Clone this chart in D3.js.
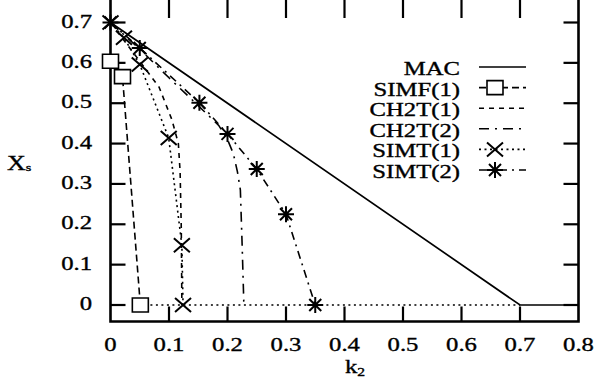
<!DOCTYPE html>
<html><head><meta charset="utf-8">
<script src="https://cdn.jsdelivr.net/npm/d3@7"></script>
<style>body{margin:0;background:#fff}svg{display:block}</style>
</head><body>
<svg id="c" width="595" height="380"></svg>
<script>
// ---- data (k2 vs X_s) ----
const xTicks = [0, 0.1, 0.2, 0.3, 0.4, 0.5, 0.6, 0.7, 0.8];
const yTicks = [0, 0.1, 0.2, 0.3, 0.4, 0.5, 0.6, 0.7];
const seriesNames = ["MAC", "SIMF(1)", "CH2T(1)", "CH2T(2)", "SIMT(1)", "SIMT(2)"];

const macK = [0, 0.7, 0.8];
const macX = [0.7, 0, 0];
const simf1K = [0, 0.0205, 0.051];
const simf1X = [0.604, 0.566, 0];
const ch2t1K = [0, 0.048, 0.083, 0.105, 0.116, 0.119, 0.121, 0.122];
const ch2t1X = [0.7, 0.608, 0.54, 0.459, 0.40, 0.33, 0.19, 0];
const ch2t2K = [0, 0.05, 0.1, 0.15, 0.185, 0.2, 0.21, 0.217, 0.222, 0.225, 0.228];
const ch2t2X = [0.7, 0.634, 0.563, 0.494, 0.445, 0.41, 0.375, 0.33, 0.285, 0.15, 0];
const simt1K = [0, 0.023, 0.05, 0.0995, 0.122, 0.124];
const simt1X = [0.7, 0.662, 0.596, 0.414, 0.148, 0];
const simt2K = [0, 0.05, 0.152, 0.2, 0.25, 0.3, 0.35];
const simt2X = [0.7, 0.637, 0.501, 0.424, 0.337, 0.225, 0];
const baseK = [0.04, 0.7];
const baseX = [0, 0];

// ---- layout ----
const svg = d3.select("#c");
const L = 110.5, R = 578.5, B = 321.5, T = 2;
const x = d3.scaleLinear().domain([0, 0.8]).range([L, R]);
const y = d3.scaleLinear().domain([0, 0.7]).range([305, 22.5]);
const FONT = "'Liberation Serif', 'Times New Roman', serif";
const SX = 1.3;

const zip = (ks, xs) => ks.map((k, i) => [k, xs[i]]);
const line = d3.line().x(d => x(d[0])).y(d => y(d[1]));

const styles = {
  "MAC":     {dash: null},
  "SIMF(1)": {dash: "7,4", marker: "box"},
  "CH2T(1)": {dash: "5,5"},
  "CH2T(2)": {dash: "10,6,2,6"},
  "SIMT(1)": {dash: "2,3.5", marker: "times"},
  "SIMT(2)": {dash: "8,5,2,5", marker: "star"}
};
const data = {
  "MAC": zip(macK, macX),
  "SIMF(1)": zip(simf1K, simf1X),
  "CH2T(1)": zip(ch2t1K, ch2t1X),
  "CH2T(2)": zip(ch2t2K, ch2t2X),
  "SIMT(1)": zip(simt1K, simt1X),
  "SIMT(2)": zip(simt2K, simt2X)
};

function markerPath(type) {
  if (type === "box") return "M-8,-7H8V7H-8Z";
  if (type === "times") return "M-8,-7L8,7M-8,7L8,-7";
  if (type === "star") return "M-8,0H8M0,-8V8M-6,-6L6,6M-6,6L6,-6";
  return "";
}

// ---- frame & ticks ----
const g = svg.append("g");
g.append("path").datum(zip(baseK, baseX)).attr("d", line)
  .attr("fill", "none").attr("stroke", "#000").attr("stroke-width", 1.5)
  .attr("stroke-dasharray", styles["SIMT(1)"].dash);

const ax = g.append("g").attr("stroke", "#000").attr("stroke-width", 2.2);
ax.selectAll(".xb").data(xTicks.slice(1, -1)).join("line")
  .attr("x1", d => x(d)).attr("x2", d => x(d)).attr("y1", B).attr("y2", B - 15);
ax.selectAll(".xt").data(xTicks.slice(1, -1)).join("line").attr("class", "xt")
  .attr("x1", d => x(d)).attr("x2", d => x(d)).attr("y1", 0).attr("y2", T + 16);
ax.selectAll(".yl").data(yTicks).join("line").attr("class", "yl")
  .attr("x1", L).attr("x2", L + 15).attr("y1", d => y(d)).attr("y2", d => y(d));
ax.selectAll(".yr").data(yTicks).join("line").attr("class", "yr")
  .attr("x1", R).attr("x2", R - 15).attr("y1", d => y(d)).attr("y2", d => y(d));
ax.append("path").attr("fill", "none").attr("stroke-width", 2.6)
  .attr("d", `M${L},0V${B}H${R}V0`);

// tick labels
const stretched = (sel) => sel.attr("font-family", FONT).attr("fill", "#000")
  .attr("stroke", "#000").attr("stroke-width", 0.35);
stretched(svg.append("g").selectAll("text").data(xTicks).join("text"))
  .attr("transform", d => `translate(${x(d)},351) scale(${SX},1)`)
  .attr("text-anchor", "middle").attr("font-size", 19)
  .text(d => d3.format("~g")(d));
stretched(svg.append("g").selectAll("text").data(yTicks).join("text"))
  .attr("transform", d => `translate(92,${y(d) + 5}) scale(${SX},1)`)
  .attr("text-anchor", "end").attr("font-size", 19)
  .text(d => d3.format("~g")(d));

// axis titles
const xl = stretched(svg.append("text")).attr("transform", `translate(345,373) scale(${SX},1)`)
  .attr("font-size", 19);
xl.append("tspan").text("k");
xl.append("tspan").attr("font-size", 12).attr("dy", 2.5).text("2");
const yl = stretched(svg.append("text")).attr("transform", `translate(7,170) scale(${SX},1)`)
  .attr("font-size", 20);
yl.append("tspan").text("X");
yl.append("tspan").attr("font-size", 11).attr("dy", 1).text("s");

// ---- series ----
seriesNames.forEach(name => {
  const st = styles[name];
  svg.append("path").datum(data[name]).attr("d", line)
    .attr("fill", "none").attr("stroke", "#000")
    .attr("stroke-width", name === "MAC" ? 1.7 : 1.6)
    .attr("stroke-dasharray", st.dash);
});
seriesNames.forEach(name => {
  const st = styles[name];
  if (!st.marker) return;
  svg.append("g").selectAll("path").data(data[name]).join("path")
    .attr("transform", d => `translate(${x(d[0])},${y(d[1])})`)
    .attr("d", markerPath(st.marker))
    .attr("fill", st.marker === "box" ? "#fff" : "none")
    .attr("stroke", "#000").attr("stroke-width", st.marker === "box" ? 1.6 : 2);
});

// ---- legend ----
const lg = svg.append("g");
seriesNames.forEach((name, i) => {
  const cy = 69 + i * 20.6;
  const st = styles[name];
  stretched(lg.append("text")).attr("transform", `translate(460,${cy + 6}) scale(${SX},1)`)
    .attr("text-anchor", "end").attr("font-size", 19).text(name);
  lg.append("line").attr("x1", 479).attr("x2", 526).attr("y1", cy - 2).attr("y2", cy - 2)
    .attr("stroke", "#000").attr("stroke-width", 1.6).attr("stroke-dasharray", st.dash);
  if (st.marker) {
    lg.append("path").attr("transform", `translate(495,${cy - 2})`)
      .attr("d", markerPath(st.marker))
      .attr("fill", st.marker === "box" ? "#fff" : "none")
      .attr("stroke", "#000").attr("stroke-width", st.marker === "box" ? 1.6 : 2);
  }
});
</script>
</body></html>
